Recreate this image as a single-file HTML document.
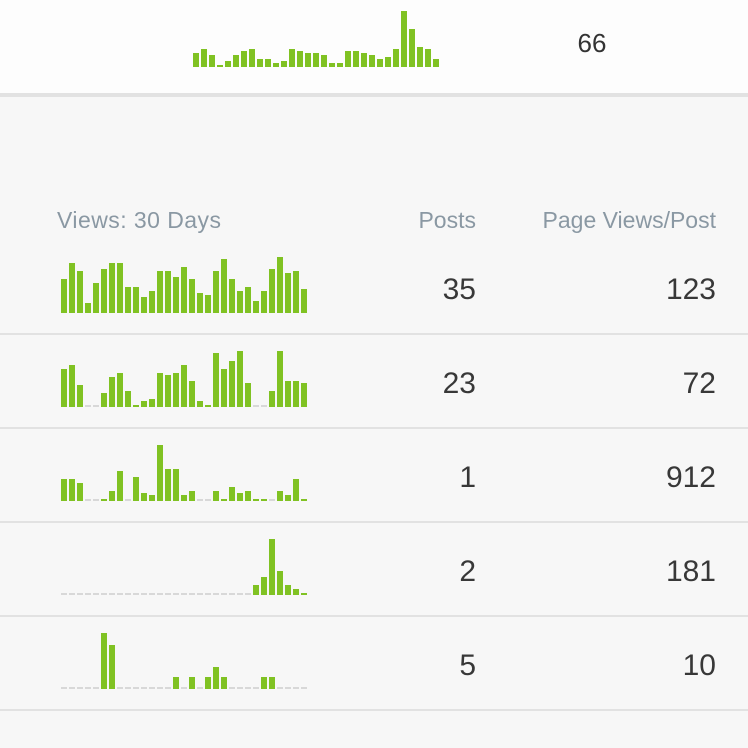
<!DOCTYPE html>
<html><head><meta charset="utf-8"><style>
html,body{margin:0;padding:0;background:#f7f7f7;}
svg{display:block;font-family:"Liberation Sans",sans-serif;}
</style></head><body>
<svg id="chart" width="748" height="748" viewBox="0 0 748 748">
<rect x="0" y="0" width="748" height="94" fill="#fdfdfd"/>
<rect x="0" y="93" width="748" height="4" fill="#e2e2e2"/>
<text x="592" y="52" text-anchor="middle" font-size="26" fill="#333">66</text>
<text x="57" y="228" font-size="23" textLength="164" fill="#8a98a3">Views: 30 Days</text>
<text x="476" y="228" text-anchor="end" font-size="23" fill="#8a98a3">Posts</text>
<text x="716" y="228" text-anchor="end" font-size="23" fill="#8a98a3">Page Views/Post</text>
<g id="marks"></g>
</svg>
<script>
const summarySeries = [7,9,6,1,3,6,8,9,4,4,2,3,9,8,7,7,6,2,2,8,8,7,6,4,5,9,28,19,10,9,4];
const row1Series = [17,25,21,5,15,22,25,25,13,13,8,11,21,21,18,23,17,10,9,21,27,17,11,13,6,11,22,28,20,21,12];
const row2Series = [19,21,11,0,0,7,15,17,8,1,3,4,17,16,17,21,13,3,1,27,19,23,28,12,0,0,8,28,13,13,12];
const row3Series = [11,11,9,0,0,1,5,15,0,12,4,3,28,16,16,3,5,0,0,5,1,7,4,5,1,1,0,5,3,11,1];
const row4Series = [0,0,0,0,0,0,0,0,0,0,0,0,0,0,0,0,0,0,0,0,0,0,0,0,5,9,28,12,5,3,1];
const row5Series = [0,0,0,0,0,28,22,0,0,0,0,0,0,0,6,0,6,0,6,11,6,0,0,0,0,6,6,0,0,0,0];
const postsValues = ["35","23","1","2","5"];
const viewsPerPostValues = ["123","72","912","181","10"];

const NS = "http://www.w3.org/2000/svg";
const g = document.getElementById('marks');
function mk(tag, attrs){const e=document.createElementNS(NS,tag);for(const k in attrs)e.setAttribute(k,attrs[k]);return e;}
function xScale(i, x0){return x0 + i*8;}
function yScale(v, max){return v/max*56;}
function spark(series, x0, base, name){
  const grp = mk('g',{});
  
  
  const max = Math.max.apply(null, series);
  series.forEach((v,i)=>{
    let r;
    if(v===0){
      r = mk('rect',{x:xScale(i,x0),y:base-2,width:6,height:2,fill:'#d8d8d8'});
    } else {
      const h = Math.max(2, yScale(v,max));
      r = mk('rect',{x:xScale(i,x0),y:base-h,width:6,height:h,fill:'#80c223'});
    }
    
    
    grp.appendChild(r);
  });
  g.appendChild(grp);
}
spark(summarySeries, 193, 67, 'summary-sparkline');
const rows = [row1Series,row2Series,row3Series,row4Series,row5Series];
rows.forEach((s,k)=>{
  const base = 313 + k*94;
  spark(s, 61, base, 'row-' + (k+1) + '-sparkline');
  const t1 = mk('text',{x:476,y:299+k*94,'text-anchor':'end','font-size':'30',fill:'#383838'});
  t1.textContent = postsValues[k];
  
  
  g.appendChild(t1);
  const t2 = mk('text',{x:716,y:299+k*94,'text-anchor':'end','font-size':'30',fill:'#383838'});
  t2.textContent = viewsPerPostValues[k];
  
  
  g.appendChild(t2);
  const ln = mk('rect',{x:0,y:333+k*94,width:748,height:2,fill:'#e2e2e2'});
  
  
  g.appendChild(ln);
});
</script>
</body></html>
